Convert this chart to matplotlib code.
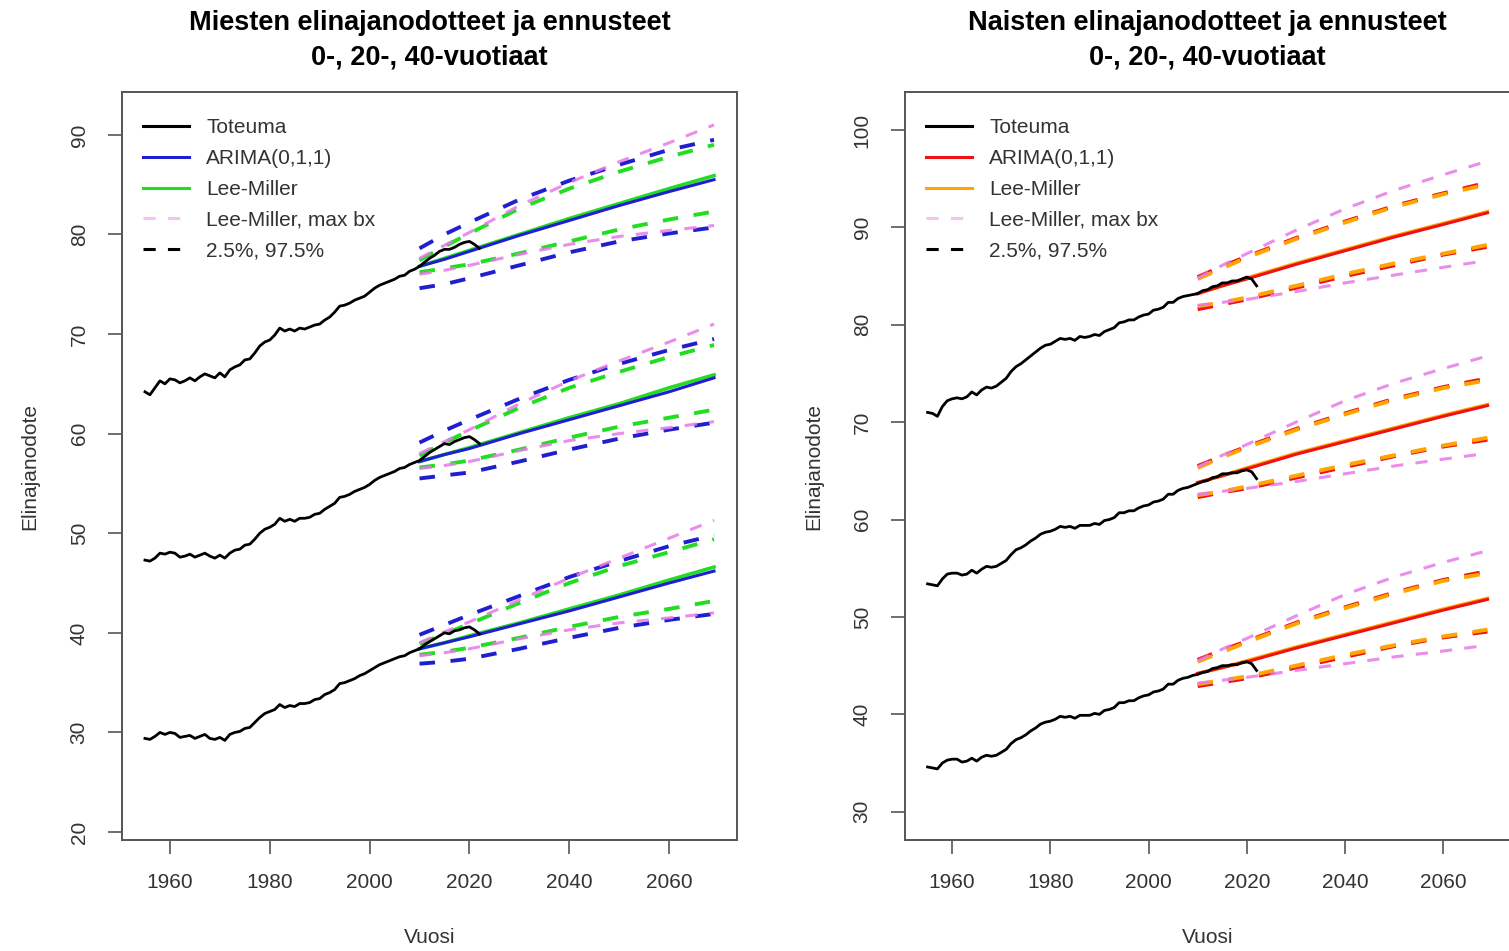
import matplotlib
matplotlib.use('Agg')
import matplotlib.pyplot as plt

plt.rcParams['font.family'] = ['Liberation Sans', 'DejaVu Sans']

# Observed life expectancy (Toteuma), 1955-2022
hist_years = list(range(1955, 2023))

men_e0 = [64.2, 63.9, 64.6, 65.3, 65.0, 65.5, 65.4, 65.1, 65.3, 65.6,
          65.3, 65.7, 66.0, 65.8, 65.6, 66.1, 65.7, 66.4, 66.7, 66.9,
          67.4, 67.5, 68.1, 68.8, 69.2, 69.4, 69.9, 70.6, 70.3, 70.5,
          70.3, 70.6, 70.5, 70.7, 70.9, 71.0, 71.4, 71.7, 72.2, 72.8,
          72.9, 73.1, 73.4, 73.6, 73.8, 74.2, 74.6, 74.9, 75.1, 75.3,
          75.5, 75.8, 75.9, 76.3, 76.5, 76.8, 77.2, 77.6, 77.9, 78.3,
          78.5, 78.5, 78.7, 79.0, 79.2, 79.3, 79.0, 78.6]
men_e20 = [47.3, 47.2, 47.5, 48.0, 47.9, 48.1, 48.0, 47.6, 47.7, 47.9,
           47.6, 47.8, 48.0, 47.7, 47.5, 47.8, 47.5, 48.0, 48.3, 48.4,
           48.8, 48.9, 49.4, 50.0, 50.4, 50.6, 50.9, 51.5, 51.2, 51.4,
           51.2, 51.5, 51.5, 51.6, 51.9, 52.0, 52.4, 52.7, 53.0, 53.6,
           53.7, 53.9, 54.2, 54.4, 54.6, 54.9, 55.3, 55.6, 55.8, 56.0,
           56.2, 56.5, 56.6, 56.9, 57.1, 57.3, 57.7, 58.1, 58.4, 58.7,
           59.0, 58.9, 59.2, 59.4, 59.6, 59.7, 59.4, 59.0]
men_e40 = [29.4, 29.3, 29.6, 30.0, 29.8, 30.0, 29.9, 29.5, 29.6, 29.7,
           29.4, 29.6, 29.8, 29.4, 29.3, 29.5, 29.2, 29.8, 30.0, 30.1,
           30.4, 30.5, 31.0, 31.5, 31.9, 32.1, 32.3, 32.8, 32.5, 32.7,
           32.6, 32.9, 32.9, 33.0, 33.3, 33.4, 33.8, 34.0, 34.3, 34.9,
           35.0, 35.2, 35.4, 35.7, 35.9, 36.2, 36.5, 36.8, 37.0, 37.2,
           37.4, 37.6, 37.7, 38.0, 38.2, 38.4, 38.8, 39.1, 39.4, 39.7,
           40.0, 39.9, 40.2, 40.3, 40.5, 40.6, 40.3, 39.9]

women_e0 = [71.0, 70.9, 70.6, 71.6, 72.2, 72.4, 72.5, 72.4, 72.6, 73.1,
            72.8, 73.3, 73.6, 73.5, 73.7, 74.1, 74.5, 75.2, 75.7, 76.0,
            76.4, 76.8, 77.2, 77.6, 77.9, 78.0, 78.3, 78.6, 78.5, 78.6,
            78.4, 78.8, 78.7, 78.8, 79.0, 78.9, 79.3, 79.5, 79.7, 80.2,
            80.3, 80.5, 80.5, 80.8, 81.0, 81.1, 81.5, 81.6, 81.8, 82.3,
            82.3, 82.7, 82.9, 83.0, 83.1, 83.2, 83.5, 83.6, 83.9, 84.0,
            84.3, 84.3, 84.5, 84.5, 84.7, 84.9, 84.7, 84.0]
women_e20 = [53.4, 53.3, 53.2, 53.9, 54.4, 54.5, 54.5, 54.3, 54.4, 54.8,
             54.5, 54.9, 55.2, 55.1, 55.2, 55.5, 55.8, 56.4, 56.9, 57.1,
             57.4, 57.8, 58.1, 58.5, 58.7, 58.8, 59.0, 59.3, 59.2, 59.3,
             59.1, 59.4, 59.4, 59.4, 59.6, 59.5, 59.9, 60.0, 60.2, 60.7,
             60.7, 60.9, 60.9, 61.2, 61.4, 61.5, 61.8, 61.9, 62.1, 62.6,
             62.6, 63.0, 63.2, 63.3, 63.5, 63.7, 63.9, 64.0, 64.3, 64.4,
             64.7, 64.7, 64.8, 64.8, 65.0, 65.1, 64.9, 64.2]
women_e40 = [34.6, 34.5, 34.4, 35.0, 35.3, 35.4, 35.4, 35.1, 35.2, 35.5,
             35.2, 35.6, 35.8, 35.7, 35.8, 36.1, 36.4, 37.0, 37.4, 37.6,
             37.9, 38.3, 38.6, 39.0, 39.2, 39.3, 39.5, 39.8, 39.7, 39.8,
             39.6, 39.9, 39.9, 39.9, 40.1, 40.0, 40.4, 40.5, 40.7, 41.2,
             41.2, 41.4, 41.4, 41.7, 41.9, 42.0, 42.3, 42.4, 42.6, 43.1,
             43.1, 43.5, 43.7, 43.8, 44.0, 44.1, 44.3, 44.4, 44.7, 44.8,
             45.0, 45.0, 45.1, 45.1, 45.3, 45.4, 45.2, 44.5]

# Forecasts 2010-2069 (values read at these years)
fc_years = [2010, 2015, 2020, 2030, 2040, 2050, 2060, 2069]

# Men, age 0
m0_arima = [76.8, 77.5, 78.3, 79.9, 81.4, 82.9, 84.3, 85.5]
m0_arima_lo = [74.6, 75.0, 75.6, 76.9, 78.2, 79.3, 80.1, 80.7]
m0_arima_hi = [78.6, 80.0, 81.2, 83.5, 85.4, 87.0, 88.5, 89.5]
m0_lm = [76.8, 77.6, 78.4, 80.0, 81.6, 83.1, 84.6, 85.9]
m0_lm_lo = [76.2, 76.6, 77.0, 78.1, 79.3, 80.5, 81.5, 82.3]
m0_lm_hi = [77.4, 78.8, 80.1, 82.6, 84.6, 86.3, 87.8, 89.0]
m0_bx_lo = [76.0, 76.4, 76.9, 78.0, 79.0, 79.8, 80.4, 80.9]
m0_bx_hi = [77.6, 78.9, 80.2, 82.9, 85.2, 87.3, 89.2, 91.0]

# Men, age 20
m20_arima = [57.2, 57.9, 58.5, 60.0, 61.4, 62.8, 64.2, 65.6]
m20_arima_lo = [55.5, 55.8, 56.1, 57.2, 58.4, 59.5, 60.4, 61.1]
m20_arima_hi = [59.1, 60.3, 61.4, 63.5, 65.4, 67.0, 68.4, 69.5]
m20_lm = [57.2, 57.9, 58.6, 60.1, 61.6, 63.0, 64.6, 65.9]
m20_lm_lo = [56.6, 56.9, 57.3, 58.4, 59.6, 60.7, 61.6, 62.4]
m20_lm_hi = [57.8, 59.1, 60.3, 62.6, 64.6, 66.2, 67.7, 68.9]
m20_bx_lo = [56.5, 56.8, 57.2, 58.3, 59.3, 60.0, 60.6, 61.2]
m20_bx_hi = [58.0, 59.2, 60.4, 63.0, 65.3, 67.3, 69.2, 71.0]

# Men, age 40
m40_arima = [38.4, 39.0, 39.6, 40.9, 42.2, 43.6, 45.0, 46.2]
m40_arima_lo = [36.9, 37.1, 37.4, 38.4, 39.5, 40.5, 41.3, 41.9]
m40_arima_hi = [39.8, 40.8, 41.8, 43.7, 45.6, 47.2, 48.7, 49.8]
m40_lm = [38.4, 39.0, 39.7, 41.0, 42.4, 43.8, 45.3, 46.6]
m40_lm_lo = [37.8, 38.1, 38.5, 39.5, 40.6, 41.6, 42.4, 43.2]
m40_lm_hi = [38.9, 39.9, 40.9, 43.0, 45.0, 46.7, 48.1, 49.4]
m40_bx_lo = [37.7, 38.0, 38.4, 39.4, 40.3, 41.0, 41.5, 42.0]
m40_bx_hi = [39.0, 40.1, 41.1, 43.3, 45.5, 47.5, 49.5, 51.3]

# Women, age 0
w0_arima = [83.2, 84.0, 84.7, 86.2, 87.6, 89.0, 90.3, 91.5]
w0_arima_lo = [81.6, 82.1, 82.6, 83.8, 85.0, 86.1, 87.2, 88.0]
w0_arima_hi = [84.9, 86.0, 87.0, 88.9, 90.6, 92.2, 93.5, 94.6]
w0_lm = [83.2, 84.0, 84.8, 86.3, 87.7, 89.1, 90.4, 91.6]
w0_lm_lo = [81.9, 82.3, 82.8, 84.0, 85.2, 86.3, 87.3, 88.2]
w0_lm_hi = [84.7, 85.8, 86.9, 88.8, 90.5, 92.1, 93.4, 94.4]
w0_bx_lo = [82.0, 82.3, 82.6, 83.4, 84.3, 85.1, 85.9, 86.6]
w0_bx_hi = [84.8, 86.1, 87.3, 89.7, 91.9, 93.8, 95.4, 96.8]

# Women, age 20
w20_arima = [63.8, 64.5, 65.2, 66.7, 68.0, 69.3, 70.6, 71.7]
w20_arima_lo = [62.3, 62.8, 63.2, 64.3, 65.4, 66.5, 67.5, 68.2]
w20_arima_hi = [65.5, 66.5, 67.5, 69.3, 70.9, 72.4, 73.6, 74.5]
w20_lm = [63.8, 64.5, 65.3, 66.8, 68.1, 69.4, 70.7, 71.8]
w20_lm_lo = [62.5, 62.9, 63.4, 64.5, 65.6, 66.6, 67.6, 68.4]
w20_lm_hi = [65.3, 66.4, 67.4, 69.2, 70.8, 72.3, 73.5, 74.3]
w20_bx_lo = [62.6, 62.9, 63.2, 63.9, 64.7, 65.5, 66.2, 66.8]
w20_bx_hi = [65.4, 66.6, 67.7, 70.0, 72.2, 74.0, 75.5, 76.8]

# Women, age 40
w40_arima = [44.2, 44.8, 45.4, 46.8, 48.1, 49.4, 50.7, 51.8]
w40_arima_lo = [42.9, 43.3, 43.7, 44.8, 45.9, 47.0, 47.9, 48.5]
w40_arima_hi = [45.6, 46.6, 47.5, 49.4, 51.0, 52.5, 53.8, 54.7]
w40_lm = [44.2, 44.8, 45.5, 46.9, 48.2, 49.5, 50.8, 51.9]
w40_lm_lo = [43.1, 43.5, 43.9, 45.0, 46.1, 47.1, 48.0, 48.7]
w40_lm_hi = [45.4, 46.4, 47.4, 49.3, 50.9, 52.4, 53.7, 54.5]
w40_bx_lo = [43.2, 43.5, 43.8, 44.5, 45.2, 45.9, 46.5, 47.1]
w40_bx_hi = [45.5, 46.7, 47.8, 50.1, 52.3, 54.1, 55.6, 56.8]

legend_labels = ['Toteuma', 'ARIMA(0,1,1)', 'Lee-Miller', 'Lee-Miller, max bx', '2.5%, 97.5%']
x_ticks = [1960, 1980, 2000, 2020, 2040, 2060]

TEXT = '#333333'
FRAME = '#555555'
PINK = '#e879e8'
DASH = (4, 4)


def draw_panel(ax, hist, forecasts, c_arima, c_lm, title, ylim, yticks):
    """Draws one panel: observed series and the forecast fans for three ages."""
    for arima, a_lo, a_hi, lm, l_lo, l_hi, b_lo, b_hi in forecasts:
        ax.plot(fc_years, lm, color=c_lm, lw=2.6)
        ax.plot(fc_years, arima, color=c_arima, lw=2.2)
        for band in (a_lo, a_hi):
            ax.plot(fc_years, band, color=c_arima, lw=2.8, dashes=DASH)
        for band in (l_lo, l_hi):
            ax.plot(fc_years, band, color=c_lm, lw=2.8, dashes=DASH)
        for band in (b_lo, b_hi):
            ax.plot(fc_years, band, color=PINK, lw=2.2, dashes=DASH, alpha=0.85)
    for series in hist:
        ax.plot(hist_years, series, color='black', lw=2.0)

    ax.set_xlim(1950.4, 2073.6)
    ax.set_ylim(*ylim)
    ax.set_xticks(x_ticks)
    ax.set_yticks(yticks)
    ax.tick_params(axis='both', direction='out', length=10, width=1.2,
                   color=FRAME, labelcolor=TEXT, labelsize=15, pad=14)
    for lab in ax.get_yticklabels():
        lab.set_rotation(90)
        lab.set_va('center')
    for sp in ax.spines.values():
        sp.set_color(FRAME)
        sp.set_linewidth(1.4)

    ax.set_title(title, fontsize=19.5, fontweight='bold', pad=20, linespacing=1.4)
    ax.set_xlabel('Vuosi', fontsize=15, color=TEXT)
    ax.set_ylabel('Elinajanodote', fontsize=15, color=TEXT)
    ax.xaxis.set_label_coords(0.5, -0.118)
    ax.yaxis.set_label_coords(-0.135, 0.5)

    # Legend handles
    handles = [
        plt.Line2D([], [], color='black', lw=2.2),
        plt.Line2D([], [], color=c_arima, lw=2.2),
        plt.Line2D([], [], color=c_lm, lw=2.2),
        plt.Line2D([], [], color=PINK, lw=2.2, dashes=DASH, alpha=0.45),
        plt.Line2D([], [], color='black', lw=2.2, dashes=DASH),
    ]
    ax.legend(handles, legend_labels, loc='upper left', frameon=False,
              fontsize=15, handlelength=2.2, handletextpad=0.85,
              labelspacing=0.57, borderaxespad=0.6,
              bbox_to_anchor=(0.0, 0.993), labelcolor=TEXT)


fig = plt.figure(figsize=(15.09, 9.51), dpi=100)
ax_m = fig.add_axes([122 / 1509, 111 / 951, 615 / 1509, 748 / 951])
ax_w = fig.add_axes([905 / 1509, 111 / 951, 605 / 1509, 748 / 951])

men_fc = [
    (m0_arima, m0_arima_lo, m0_arima_hi, m0_lm, m0_lm_lo, m0_lm_hi, m0_bx_lo, m0_bx_hi),
    (m20_arima, m20_arima_lo, m20_arima_hi, m20_lm, m20_lm_lo, m20_lm_hi, m20_bx_lo, m20_bx_hi),
    (m40_arima, m40_arima_lo, m40_arima_hi, m40_lm, m40_lm_lo, m40_lm_hi, m40_bx_lo, m40_bx_hi),
]
women_fc = [
    (w0_arima, w0_arima_lo, w0_arima_hi, w0_lm, w0_lm_lo, w0_lm_hi, w0_bx_lo, w0_bx_hi),
    (w20_arima, w20_arima_lo, w20_arima_hi, w20_lm, w20_lm_lo, w20_lm_hi, w20_bx_lo, w20_bx_hi),
    (w40_arima, w40_arima_lo, w40_arima_hi, w40_lm, w40_lm_lo, w40_lm_hi, w40_bx_lo, w40_bx_hi),
]

draw_panel(ax_m, [men_e0, men_e20, men_e40], men_fc, '#1f1fd0', '#22dd22',
           'Miesten elinajanodotteet ja ennusteet\n0-, 20-, 40-vuotiaat',
           (19.2, 94.3), [20, 30, 40, 50, 60, 70, 80, 90])
draw_panel(ax_w, [women_e0, women_e20, women_e40], women_fc, '#ee1111', '#ffa500',
           'Naisten elinajanodotteet ja ennusteet\n0-, 20-, 40-vuotiaat',
           (27.1, 103.9), [30, 40, 50, 60, 70, 80, 90, 100])

fig.savefig('out.png', dpi=100)
